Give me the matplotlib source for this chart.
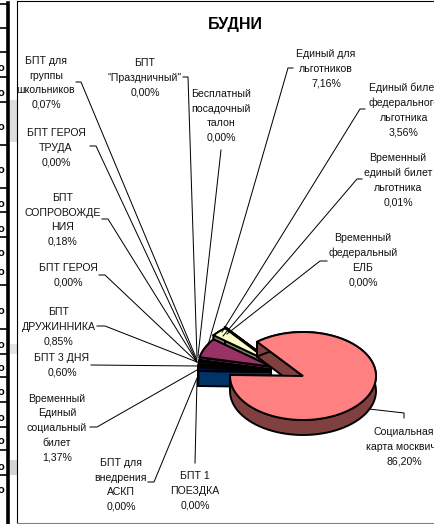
import numpy as np
import matplotlib
matplotlib.use("Agg")
import matplotlib.pyplot as plt

plt.rcParams['font.family'] = ['Liberation Sans', 'DejaVu Sans']

# clockwise, starting from the big slice
labels = ["Социальная\nкарта москвича", "БПТ 1\nПОЕЗДКА", "БПТ для\nвнедрения\nАСКП",
          "Временный\nЕдиный\nсоциальный\nбилет", "БПТ 3 ДНЯ", "БПТ\nДРУЖИННИКА", "БПТ ГЕРОЯ",
          "БПТ\nСОПРОВОЖДЕ\nНИЯ", "БПТ ГЕРОЯ\nТРУДА", "БПТ для\nгруппы\nшкольников",
          "БПТ\n\"Праздничный\"", "Бесплатный\nпосадочный\nталон", "Единый для\nльготников",
          "Единый билет\nфедерального\nльготника", "Временный\nединый билет\nльготника",
          "Временный\nфедеральный\nЕЛБ"]
values = [86.20, 0.00, 0.00, 1.37, 0.60, 0.85, 0.00, 0.18, 0.00, 0.07, 0.00, 0.00, 7.16, 3.56, 0.01, 0.00]

face_colors = ["#FF8080", "#FFFFFF", "#FFFFFF", "#000080", "#FFCC99", "#660066", "#FFFFFF", "#000080",
               "#FFFFFF", "#FF8080", "#FFFFFF", "#FFFFFF", "#993366", "#FFFFCC", "#CCFFFF", "#FFFFFF"]
wall_colors = ["#804040", "#808080", "#808080", "#003366", "#806650", "#330033", "#808080", "#000040",
               "#808080", "#804040", "#808080", "#808080", "#4D1A33", "#808066", "#668080", "#808080"]

# where each label sits, and its leader line
label_x = [404, 195, 121, 57, 62, 59, 68, 63, 56, 46, 145, 221, 326, 404, 398, 363]
label_y = [447, 491, 485, 428, 365, 327, 275, 220, 148, 83, 78, 116, 69, 110, 180, 260]
leaders = [[(404, 418), (404, 413), (369, 409)],
           [(195, 463), (197, 380)],
           [(148, 482), (154, 482), (197, 378)],
           [(90, 427), (97, 427), (197, 370)],
           [(91, 365), (197, 366)],
           [(97, 326), (105, 326), (197, 362)],
           [(99, 275), (105, 275), (197, 362)],
           [(102, 219), (108, 219), (197, 362)],
           [(90, 146), (96, 146), (197, 362)],
           [(76, 82), (81, 82), (197, 360)],
           [(183, 77), (188, 77), (197, 358)],
           [(221, 150), (198, 356)],
           [(293, 68), (288, 68), (208, 345)],
           [(365, 109), (360, 109), (222, 332)],
           [(362, 179), (357, 179), (223, 336)],
           [(327, 261), (320, 261), (227, 334)]]

# bits of the neighbouring table that show at the left edge
table_rules = [4, 28, 52, 77, 102, 145, 188, 212, 237, 285, 329, 354, 377, 402, 427, 450, 475]
table_glyphs = [68, 93, 127, 170, 204, 229, 253, 272, 311, 345, 368, 392, 418, 441, 467, 490]

cx, cy = 303, 376
rx, ry = 73, 44
depth = 15
start_angle = 129


def slice_outline(a0, a1, ox, oy):
    t = np.radians(np.linspace(a0, a1, 80))
    xs = np.concatenate([[ox], ox + rx * np.cos(t), [ox]])
    ys = np.concatenate([[oy], oy - ry * np.sin(t), [oy]])
    return xs, ys


def draw_slice(ax, a0, a1, ox, oy, face, wall):
    xs, ys = slice_outline(a0, a1, ox, oy)
    # the two cut walls, then the rim
    for j in (0, len(xs) - 2):
        ax.fill([xs[j], xs[j + 1], xs[j + 1], xs[j]],
                [ys[j], ys[j + 1], ys[j + 1] + depth, ys[j] + depth],
                facecolor=wall, edgecolor="black", lw=1.4, zorder=2)
    rim_x = xs[1:-1]
    rim_y = ys[1:-1]
    ax.fill(np.r_[rim_x, rim_x[::-1]], np.r_[rim_y, rim_y[::-1] + depth],
            facecolor=wall, edgecolor="black", lw=1.4, zorder=2)
    ax.fill(xs, ys, facecolor=face, edgecolor="black", lw=1.4, zorder=2)


fig = plt.figure(figsize=(4.35, 5.24), dpi=100)
ax = fig.add_axes([0, 0, 1, 1])
ax.set_xlim(0, 435)
ax.set_ylim(524, 0)
ax.axis("off")

# left edge leftovers
ax.fill([10, 17, 17, 10], [100, 100, 142, 142], color="#DDDDDD", lw=0)
ax.fill([10, 17, 17, 10], [344, 344, 354, 354], color="#E4E4E4", lw=0)
ax.fill([10, 17, 17, 10], [460, 460, 475, 475], color="#D4D4D4", lw=0)
ax.plot([7.7, 7.7], [3, 524], color="black", lw=2.6)
for y in table_rules:
    ax.plot([0, 8], [y, y], color="black", lw=1.2)
for y in table_glyphs:
    ax.text(0.5, y, "о", fontsize=8, fontweight="bold", ha="center", va="center")

# chart area frame
ax.plot([17.5, 17.5], [1, 523], color="black", lw=0.8)
ax.plot([17.5, 435], [1, 1], color="black", lw=0.8)
ax.plot([17.5, 435], [523, 523], color="#808080", lw=0.8)

ax.text(235, 25, "БУДНИ", fontsize=11.5, fontweight="bold", ha="center", va="center")

# slice angles, going clockwise from the start angle
sweep = np.array(values) / sum(values) * 360
ends = start_angle - np.cumsum(sweep)
starts = ends + sweep

# the small slices are pulled out to the left; paint the back ones first
for i in range(len(values) - 1, 0, -1):
    if values[i] <= 0:
        continue
    mid = np.radians((starts[i] + ends[i]) / 2)
    draw_slice(ax, ends[i], starts[i], cx - 32, cy - 3 - 15 * np.sin(mid), face_colors[i], wall_colors[i])
draw_slice(ax, ends[0], starts[0], cx, cy, face_colors[0], wall_colors[0])

for pts in leaders:
    xs, ys = zip(*pts)
    ax.plot(xs, ys, color="black", lw=0.72, zorder=3)

for name, val, x, y in zip(labels, values, label_x, label_y):
    pct = f"{val:.2f}%".replace(".", ",")
    ax.text(x, y, name + "\n" + pct, fontsize=7.6, color="#111111", ha="center", va="center",
            linespacing=1.58, zorder=4)

fig.savefig("out.png", dpi=100)
